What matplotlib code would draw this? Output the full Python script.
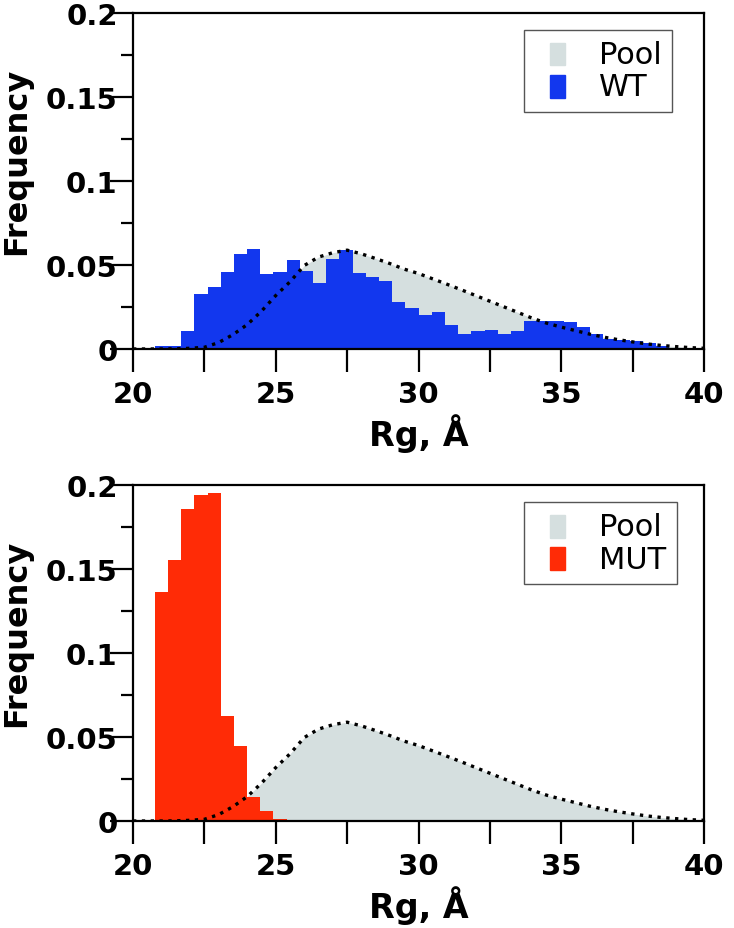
import numpy as np
import matplotlib
matplotlib.use("Agg")
import matplotlib.pyplot as plt
from matplotlib.patches import Rectangle
from matplotlib.legend_handler import HandlerPatch

# ---- data ----
# pool (reference) distribution, sampled every 0.5 A
pool_rg = np.arange(20.0, 40.01, 0.5)
pool_freq = [0.0, 0.0, 0.0, 0.0001, 0.0004, 0.001, 0.0038, 0.0085, 0.0145, 0.0225,
             0.0318, 0.0400, 0.0497, 0.0547, 0.0573, 0.0588, 0.0566, 0.0538, 0.0508, 0.0475,
             0.0449, 0.0417, 0.0385, 0.0352, 0.0318, 0.0284, 0.0250, 0.0216, 0.0182, 0.0153,
             0.0130, 0.0109, 0.0088, 0.0070, 0.0055, 0.0042, 0.0030, 0.0021, 0.0014, 0.0008,
             0.0004]

# histogram bins (same grid for WT and MUT)
bin_start = 20.76
bin_width = 0.4623

wt_freq = [0.0015, 0.0020, 0.0105, 0.0330, 0.0367, 0.0456, 0.0565, 0.0595, 0.0446, 0.0456,
           0.0530, 0.0466, 0.0390, 0.0536, 0.0590, 0.0450, 0.0427, 0.0403, 0.0282, 0.0244,
           0.0205, 0.0222, 0.0145, 0.0091, 0.0105, 0.0112, 0.0091, 0.0104, 0.0165, 0.0168,
           0.0165, 0.0162, 0.0133, 0.0090, 0.0060, 0.0052, 0.0045, 0.0035, 0.0015, 0.0005]

mut_freq = [0.1365, 0.1554, 0.1855, 0.1939, 0.1951, 0.0625, 0.0446, 0.0141, 0.0060, 0.0012]

y_ticks = [0, 0.05, 0.1, 0.15, 0.2]
y_ticklabels = ["0", "0.05", "0.1", "0.15", "0.2"]
x_ticks = [20, 22.5, 25, 27.5, 30, 32.5, 35, 37.5, 40]
x_ticklabels = ["20", "", "25", "", "30", "", "35", "", "40"]

POOL_GRAY = "#d5dfdf"
WT_BLUE = "#1237ee"
MUT_RED = "#ff2b06"


def narrow_patch(legend, orig_handle, xdescent, ydescent, width, height, fontsize):
    w = 0.48 * fontsize
    return Rectangle((-xdescent + (width - w) / 2, -ydescent - 0.05 * fontsize), w, height)


def draw_panel(ax, freq, color, label):
    edges = bin_start + bin_width * np.arange(len(freq) + 1)
    ax.fill_between(pool_rg, pool_freq, color=POOL_GRAY, linewidth=0, zorder=1)
    ax.stairs(freq, edges, fill=True, color=color, linewidth=0, zorder=2)
    ax.plot(pool_rg, pool_freq, color="black", linestyle=":", linewidth=2.4, zorder=3)

    ax.set_xlim(20, 40)
    ax.set_ylim(0, 0.2)
    ax.set_xticks(x_ticks)
    ax.set_xticklabels(x_ticklabels)
    ax.set_yticks(y_ticks)
    ax.set_yticklabels(y_ticklabels)
    ax.set_yticks(np.arange(0.025, 0.2, 0.05), minor=True)
    for lab in ax.get_xticklabels() + ax.get_yticklabels():
        lab.set_fontweight("bold")
        lab.set_fontsize(21)
    ax.tick_params(axis="both", which="major", direction="out", length=16.5, width=1.6)
    ax.tick_params(axis="y", which="major", pad=-5.5)
    ax.tick_params(axis="x", which="major", pad=6)
    ax.tick_params(axis="y", which="minor", direction="out", length=8.5, width=1.6)
    for sp in ax.spines.values():
        sp.set_linewidth(1.6)

    ax.set_xlabel("Rg, Å", fontsize=24, fontweight="bold")
    ax.xaxis.set_label_coords(0.5, -0.19)
    ax.set_ylabel("Frequency", fontsize=23, fontweight="bold")
    ax.yaxis.set_label_coords(-0.177, 0.56)

    handles = [Rectangle((0, 0), 1, 1, color=POOL_GRAY), Rectangle((0, 0), 1, 1, color=color)]
    leg = ax.legend(handles, ["Pool", label], loc="upper left", bbox_to_anchor=(0.685, 0.95),
                    borderaxespad=0, fontsize=22, fancybox=False, handlelength=1.5,
                    handleheight=0.75, handletextpad=0.6, labelspacing=0.1, borderpad=0.35,
                    handler_map={Rectangle: HandlerPatch(patch_func=narrow_patch)})
    leg.get_frame().set_edgecolor("#555555")
    leg.get_frame().set_linewidth(1.0)
    leg.get_frame().set_alpha(1)


fig = plt.figure(figsize=(7.34, 9.29), dpi=100, facecolor="white")
ax_top = fig.add_axes([0.1812, 0.6233, 0.778, 0.3617])
ax_bot = fig.add_axes([0.1812, 0.1152, 0.778, 0.3617])

draw_panel(ax_top, wt_freq, WT_BLUE, "WT")
draw_panel(ax_bot, mut_freq, MUT_RED, "MUT")

fig.savefig("out.png", dpi=100, facecolor="white")
